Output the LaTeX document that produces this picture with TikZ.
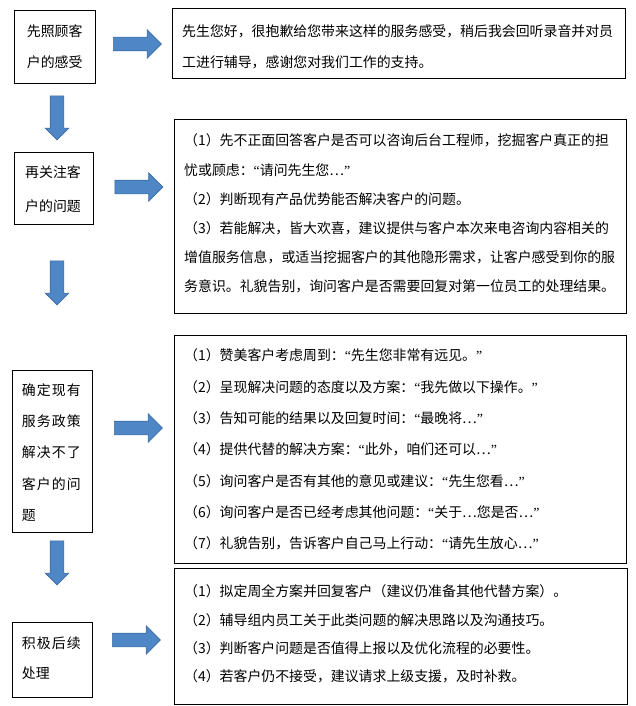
\documentclass[tikz,border=0pt]{standalone}
\usepackage{fontspec}
\newfontfamily\cjk{Noto Sans CJK SC}
\newfontfamily\cjkw[LetterSpace=8]{Noto Sans CJK SC}
\newfontfamily\qtfont{Liberation Serif}
\newcommand\qo{{\qtfont “}}
\newcommand\qc{{\qtfont ”}}
\usetikzlibrary{shapes.arrows}
\definecolor{arrowfill}{HTML}{4F86C6}
\definecolor{arrowline}{HTML}{3B6DA3}
\begin{document}
\begin{tikzpicture}[x=1pt,y=-1pt,
  box/.style={draw=black, line width=0.9pt, inner sep=0pt, anchor=north west},
  txt/.style={font=\cjk\fontsize{13.9}{#1}\selectfont, align=left, inner sep=0pt, anchor=west},
  txtw/.style={font=\cjkw\fontsize{13.9}{#1}\selectfont, align=left, inner sep=0pt, anchor=west},
  rarrow/.style={single arrow, draw=arrowline, fill=arrowfill, line width=0.6pt,
    inner xsep=0pt, inner ysep=6.5pt, minimum height=48pt,
    single arrow head extend=7.5pt, single arrow tip angle=90},
  darrow/.style={single arrow, draw=arrowline, fill=arrowfill, line width=0.6pt,
    inner xsep=0pt, inner ysep=6.5pt, minimum height=44pt,
    single arrow head extend=5pt, single arrow tip angle=90, rotate=-90}
]
\useasboundingbox (0,0) rectangle (636,706);
\fill[white] (0,0) rectangle (636,706);

% left boxes
\node[box, minimum width=81pt, minimum height=73pt] (A) at (14,10) {};
\node[box, minimum width=79pt, minimum height=72pt] (B) at (14,152) {};
\node[box, minimum width=80pt, minimum height=162pt] (C) at (12,370) {};
\node[box, minimum width=80pt, minimum height=75pt] (D) at (12,622) {};

% right boxes
\node[box, minimum width=453pt, minimum height=70pt] (R1) at (172,8) {};
\node[box, minimum width=452pt, minimum height=194pt] (R2) at (174,119) {};
\node[box, minimum width=452pt, minimum height=228pt] (R3) at (174,335) {};
\node[box, minimum width=453pt, minimum height=136pt] (R4) at (174,568) {};

% left texts
\node[txt=30.7] (tA) at (26.7,46.6) {先照顾客\\户的感受};
\node[txt=34] (tB) at (25,188.7) {再关注客\\户的问题};
\node[txtw=31.25] (tC) at (21.7,452.5) {确定现有\\服务政策\\解决不了\\客户的问\\题};
\node[txt=30] (tD) at (21.7,658) {{\cjkw 积极后续}\\处理};

% right texts
\node[txt=30.7] (tR1) at (182,46.6) {先生您好，很抱歉给您带来这样的服务感受，稍后我会回听录音并对员\\工进行辅导，感谢您对我们工作的支持。};
\node[txt=29.2] (tR2) at (184,213.7) {（1）先不正面回答客户是否可以咨询后台工程师，挖掘客户真正的担\\忧或顾虑：\qo 请问先生您…\qc\\（2）判断现有产品优势能否解决客户的问题。\\（3）若能解决，皆大欢喜，建议提供与客户本次来电咨询内容相关的\\增值服务信息，或适当挖掘客户的其他隐形需求，让客户感受到你的服\\务意识。礼貌告别，询问客户是否需要回复对第一位员工的处理结果。};
\node[txt=31.3] (tR3) at (184,449.6) {（1）赞美客户考虑周到：\qo 先生您非常有远见。\qc\\（2）呈现解决问题的态度以及方案：\qo 我先做以下操作。\qc\\（3）告知可能的结果以及回复时间：\qo 最晚将…\qc\\（4）提供代替的解决方案：\qo 此外，咱们还可以…\qc\\（5）询问客户是否有其他的意见或建议：\qo 先生您看…\qc\\（6）询问客户是否已经考虑其他问题：\qo 关于…您是否…\qc\\（7）礼貌告别，告诉客户自己马上行动：\qo 请先生放心…\qc};
\node[txt=28.3] (tR4) at (184,634.2) {（1）拟定周全方案并回复客户（建议仍准备其他代替方案）。\\（2）辅导组内员工关于此类问题的解决思路以及沟通技巧。\\（3）判断客户问题是否值得上报以及优化流程的必要性。\\（4）若客户仍不接受，建议请求上级支援，及时补救。};

% right arrows
\node[rarrow] (a1) at (134,44) {};
\node[rarrow] (a2) at (135.5,187) {};
\node[rarrow] (a3) at (135,428) {};
\node[rarrow] (a4) at (133,640) {};

% down arrows
\node[darrow] (d1) at (57,114.5) {};
\node[darrow] (d2) at (57,279.5) {};
\node[darrow] (d3) at (57,559.5) {};
\end{tikzpicture}
\end{document}
